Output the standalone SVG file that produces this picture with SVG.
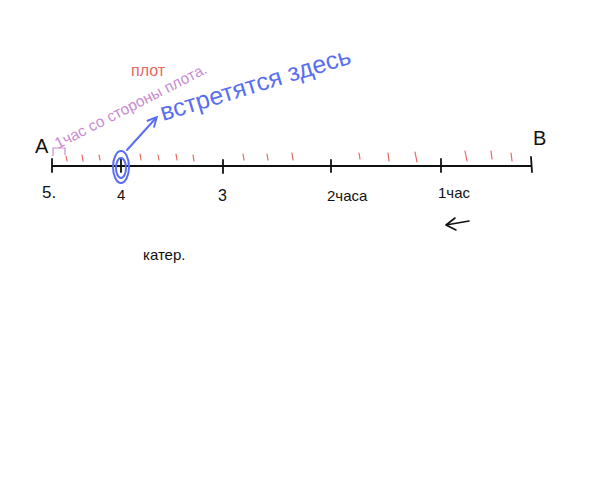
<svg xmlns="http://www.w3.org/2000/svg" width="600" height="499" viewBox="0 0 600 499">
<defs>
<style>
.ax{stroke:#111;stroke-width:1.8;fill:none;stroke-linecap:round}
.rt{stroke:#e8675f;stroke-width:1.2;fill:none;stroke-linecap:round}
.lb{font-family:"Liberation Sans",Arial,sans-serif;font-size:15px;fill:#111}
.bl{stroke:#5a6ff0;stroke-width:2;fill:none;stroke-linecap:round}
</style>
<marker id="ah" viewBox="0 0 10 10" refX="8" refY="5" markerWidth="6" markerHeight="6" orient="auto">
<path d="M1,1 L9,5 L1,9" fill="none" stroke="#5a6ff0" stroke-width="1.6"/>
</marker>
</defs>
<rect width="600" height="499" fill="#fff"/>
<g id="axis">
<line class="ax" x1="52" y1="166" x2="531" y2="166"/>
<line class="ax" x1="52" y1="159" x2="52" y2="172"/>
<line class="ax" x1="121" y1="159" x2="121" y2="172"/>
<line class="ax" x1="223" y1="160" x2="223" y2="173"/>
<line class="ax" x1="331" y1="160" x2="331" y2="172"/>
<line class="ax" x1="441" y1="159" x2="441" y2="172"/>
<line class="ax" x1="531" y1="157" x2="532" y2="172"/>
</g>
<g id="red-ticks">
<line class="rt" x1="66" y1="156" x2="67" y2="161"/>
<line class="rt" x1="82" y1="155" x2="83" y2="161"/>
<line class="rt" x1="99" y1="155" x2="100" y2="160"/>
<line class="rt" x1="140" y1="154" x2="141" y2="160"/>
<line class="rt" x1="158" y1="155" x2="159" y2="160"/>
<line class="rt" x1="176" y1="154" x2="177" y2="160"/>
<line class="rt" x1="193" y1="155" x2="194" y2="161"/>
<line class="rt" x1="243" y1="154" x2="244" y2="160"/>
<line class="rt" x1="267" y1="154" x2="268" y2="160"/>
<line class="rt" x1="292" y1="153" x2="293" y2="160"/>
<line class="rt" x1="359" y1="153" x2="360" y2="159"/>
<line class="rt" x1="388" y1="153" x2="389" y2="161"/>
<line class="rt" x1="415" y1="152" x2="417" y2="162"/>
<line class="rt" x1="465" y1="151" x2="467" y2="161"/>
<line class="rt" x1="491" y1="151" x2="492" y2="159"/>
<line class="rt" x1="511" y1="153" x2="512" y2="161"/>
</g>
<g id="labels">
<text class="lb" x="35" y="153" style="font-size:20px">A</text>
<text class="lb" x="533" y="145" style="font-size:20px">B</text>
<text class="lb" x="42" y="198" style="font-size:17px">5.</text>
<text class="lb" x="117" y="200">4</text>
<text class="lb" x="218" y="201" style="font-size:16px">3</text>
<text class="lb" x="327" y="201">2часа</text>
<text class="lb" x="438" y="198">1час</text>
<text class="lb" x="143" y="260">катер.</text>
<path d="M469,221 L446,225 M455,218 L446,225 L456,230" fill="none" stroke="#111" stroke-width="1.6" stroke-linecap="round" stroke-linejoin="round"/>
</g>
<g id="plot-label">
<path d="M53,156 L53,148 L65,148 L65,155" fill="none" stroke="#c98bd0" stroke-width="1.2"/>
<text x="58" y="149" transform="rotate(-27 58 149)" font-family="Liberation Sans,Arial,sans-serif" font-size="15.5" fill="#c98bd0">1час со стороны плота.</text>
<text x="131" y="76" font-family="Liberation Sans,Arial,sans-serif" font-size="16" fill="#e8675f">плот</text>
</g>
<g id="meet">
<ellipse class="bl" cx="121" cy="167" rx="8" ry="16"/>
<ellipse class="bl" cx="121" cy="168" rx="5" ry="10" stroke-width="1.2"/>
<line class="bl" x1="127" y1="150" x2="156" y2="118" marker-end="url(#ah)"/>
<text x="163" y="121" transform="rotate(-17 163 121)" font-family="Liberation Sans,Arial,sans-serif" font-size="25" fill="#5a6ff0">встретятся здесь</text>
</g>
</svg>
